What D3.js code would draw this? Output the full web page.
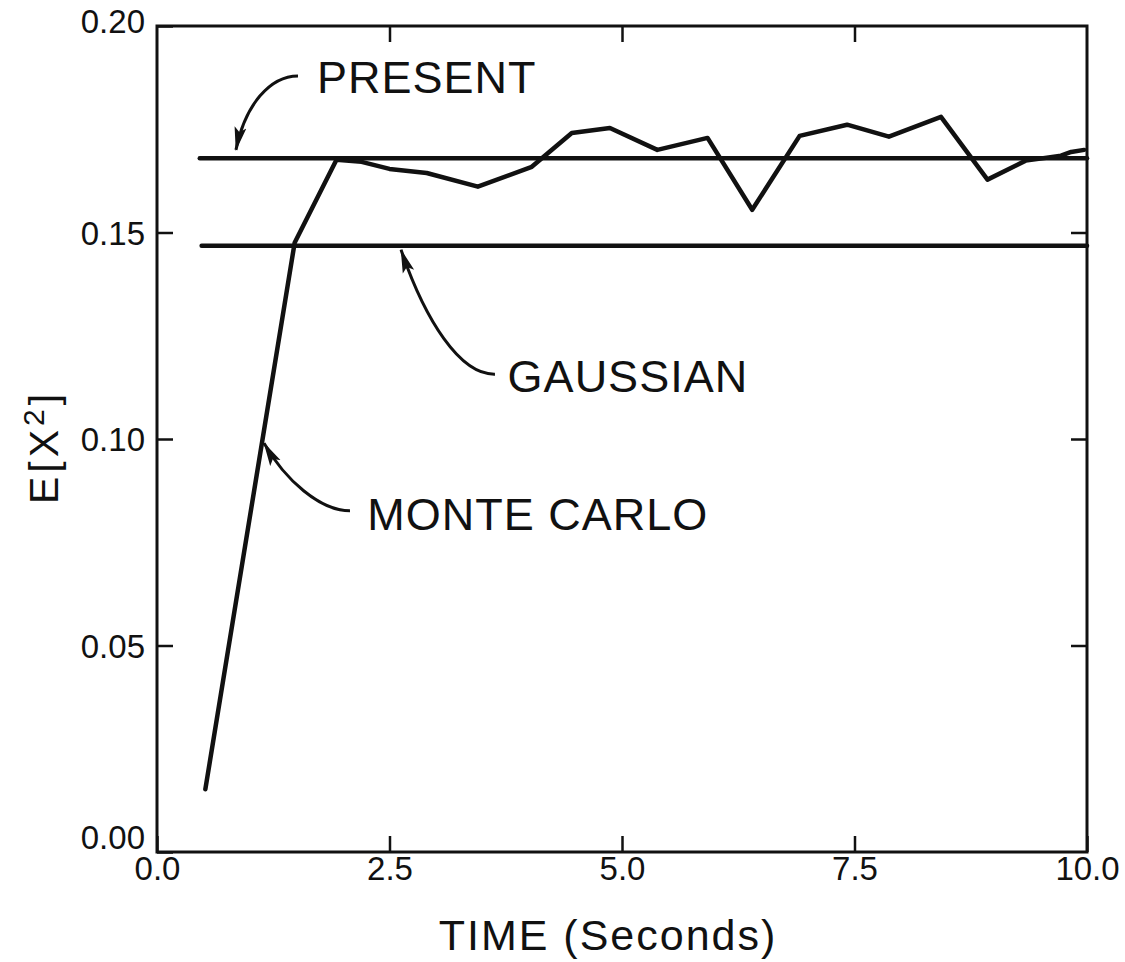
<!DOCTYPE html>
<html>
<head>
<meta charset="utf-8">
<script src="https://cdn.jsdelivr.net/npm/d3@7"></script>
<style>
  body { margin: 0; background: #fff; }
  text { font-family: "Liberation Sans", Arial, sans-serif; fill: #111; }
</style>
</head>
<body>
<svg id="chart"></svg>
<script>
// Monte Carlo estimate of E[x^2] vs time
const mcTime = [0.52, 1.48, 1.93, 2.20, 2.50, 2.90, 3.45, 4.03, 4.46, 4.87, 5.38, 5.92,
  6.40, 6.91, 7.42, 7.87, 8.43, 8.93, 9.34, 9.72, 9.83, 9.97];
const mcValue = [0.0152, 0.1475, 0.1676, 0.1671, 0.1654, 0.1644, 0.1611, 0.1659, 0.1741,
  0.1753, 0.1700, 0.1729, 0.1555, 0.1734, 0.1761, 0.1732, 0.1780, 0.1628, 0.1674,
  0.1686, 0.1695, 0.1700];

// constant predictions: [start time, end time, value]
const presentLine = [0.46, 10.0, 0.1680];
const gaussianLine = [0.48, 10.0, 0.1468];

const xTicks = [0, 2.5, 5.0, 7.5, 10.0];
const yTicks = [0, 0.05, 0.10, 0.15, 0.20];

// labels with curved arrows: text anchor, then curve start, c1, c2, end (data coords)
const labelNames = ["PRESENT", "GAUSSIAN", "MONTE CARLO"];
const labelPos = [[1.72, 0.1838], [3.77, 0.1114], [2.26, 0.0780]];
const arrowCurves = [
  [[1.516, 0.1879], [1.215, 0.1879], [0.946, 0.1809], [0.849, 0.1700]],
  [[3.634, 0.1157], [3.258, 0.1155], [2.882, 0.1288], [2.624, 0.1458]],
  [[2.075, 0.0826], [1.753, 0.0826], [1.376, 0.0901], [1.151, 0.0990]]
];

const margin = { top: 26, right: 38, bottom: 110, left: 157 },
  width = 1125 - margin.left - margin.right,
  height = 962 - margin.top - margin.bottom;

const svg = d3.select("#chart").attr("width", 1125).attr("height", 962);
const g = svg.append("g").attr("transform", `translate(${margin.left},${margin.top})`);

const x = d3.scaleLinear().domain([0, 10]).range([0, width]);
const y = d3.scaleLinear().domain([0, 0.2]).range([height, 0]);

// inward ticks on all four sides
const tickLen = -16;
const leftAxis = g.append("g")
  .call(d3.axisLeft(y).tickValues(yTicks).tickFormat(d3.format(".2f")).tickSize(tickLen).tickPadding(12));
const rightAxis = g.append("g").attr("transform", `translate(${width},0)`)
  .call(d3.axisRight(y).tickValues(yTicks.slice(1, -1)).tickFormat("").tickSize(tickLen));
const bottomAxis = g.append("g").attr("transform", `translate(0,${height})`)
  .call(d3.axisBottom(x).tickValues(xTicks).tickFormat(d3.format(".1f")).tickSize(tickLen).tickPadding(5));
const topAxis = g.append("g")
  .call(d3.axisTop(x).tickValues(xTicks.slice(1, -1)).tickFormat("").tickSize(tickLen));

[leftAxis, rightAxis, bottomAxis, topAxis].forEach((a) => {
  a.select(".domain").remove();
  a.selectAll(".tick line").attr("stroke", "#111").attr("stroke-width", 2.5);
  a.selectAll(".tick text").style("font-size", "33px").attr("fill", "#111");
});
// the 0.00 label sits just above the bottom axis, as in the original
leftAxis.selectAll(".tick text").attr("dy", (d) => (d === 0 ? "-0.1em" : "0.36em"));
leftAxis.selectAll(".tick text").filter((d) => d === 0.2).attr("dy", "0.2em");

g.append("rect")
  .attr("width", width).attr("height", height)
  .attr("fill", "none").attr("stroke", "#111").attr("stroke-width", 3);

// horizontal reference lines
[presentLine, gaussianLine].forEach((l) => {
  g.append("line")
    .attr("x1", x(l[0])).attr("x2", x(l[1]))
    .attr("y1", y(l[2])).attr("y2", y(l[2]))
    .attr("stroke", "#111").attr("stroke-width", 4.5).attr("stroke-linecap", "round");
});

// monte carlo curve
const mcData = mcTime.map((t, i) => ({ t: t, v: mcValue[i] }));
g.append("path")
  .datum(mcData)
  .attr("d", d3.line().x((d) => x(d.t)).y((d) => y(d.v)))
  .attr("fill", "none").attr("stroke", "#111").attr("stroke-width", 4.5)
  .attr("stroke-linejoin", "round").attr("stroke-linecap", "round");

// arrowhead marker
svg.append("defs").append("marker")
  .attr("id", "arrow")
  .attr("viewBox", "0 0 24 14").attr("refX", 23).attr("refY", 7)
  .attr("markerWidth", 24).attr("markerHeight", 14)
  .attr("markerUnits", "userSpaceOnUse").attr("orient", "auto")
  .append("path").attr("d", "M0,1 L24,7 L0,13 L5,7 Z").attr("fill", "#111");

arrowCurves.forEach((c) => {
  const p = c.map((d) => [x(d[0]), y(d[1])]);
  g.append("path")
    .attr("d", `M${p[0]} C${p[1]} ${p[2]} ${p[3]}`)
    .attr("fill", "none").attr("stroke", "#111").attr("stroke-width", 3)
    .attr("marker-end", "url(#arrow)");
});

labelNames.forEach((name, i) => {
  g.append("text")
    .attr("x", x(labelPos[i][0])).attr("y", y(labelPos[i][1]))
    .style("font-size", "45px").style("letter-spacing", "1px")
    .text(name);
});

// axis titles
svg.append("text")
  .attr("x", margin.left + width / 2 - 14).attr("y", 950)
  .attr("text-anchor", "middle")
  .style("font-size", "43px").style("letter-spacing", "2px")
  .text("TIME (Seconds)");

const yTitle = svg.append("text")
  .attr("transform", "translate(58,447) rotate(-90)")
  .attr("text-anchor", "middle")
  .style("font-size", "41px").style("letter-spacing", "4px");
yTitle.append("tspan").text("E[X");
yTitle.append("tspan").attr("dy", "-14").style("font-size", "30px").text("2");
yTitle.append("tspan").attr("dy", "14").text("]");
</script>
</body>
</html>
